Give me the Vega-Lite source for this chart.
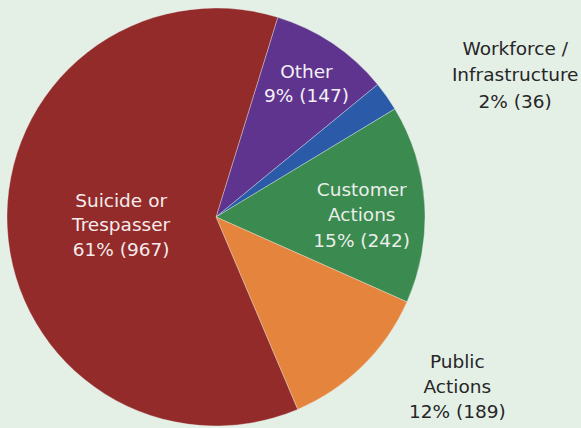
{
  "$schema": "https://vega.github.io/schema/vega-lite/v6.json",
  "autosize": "none",
  "width": 432,
  "height": 422,
  "padding": {"left": 0, "top": 6, "right": 149, "bottom": 0},
  "background": "#e4efe6",
  "view": {"stroke": null},
  "data": {
    "values": [
      {"category": "Other", "count": 147, "label": ["Other", "9% (147)"]},
      {"category": "Workforce / Infrastructure", "count": 36, "label": ["Workforce /", "Infrastructure", "2% (36)"]},
      {"category": "Customer Actions", "count": 242, "label": ["Customer", "Actions", "15% (242)"]},
      {"category": "Public Actions", "count": 189, "label": ["Public", "Actions", "12% (189)"]},
      {"category": "Suicide or Trespasser", "count": 967, "label": ["Suicide or", "Trespasser", "61% (967)"]}
    ]
  },
  "encoding": {
    "theta": {"field": "count", "type": "quantitative", "stack": true, "scale": {"range": [0.3, 6.5832]}},
    "order": {"field": "ord", "type": "quantitative"}
  },
  "transform": [
    {"window": [{"op": "row_number", "as": "ord"}]}
  ],
  "layer": [
    {
      "mark": {"type": "arc", "radius": 209, "stroke": "#f2f2f2", "strokeWidth": 0.6, "strokeOpacity": 0.6},
      "encoding": {
        "color": {
          "field": "category", "type": "nominal", "legend": null,
          "scale": {
            "domain": ["Other", "Workforce / Infrastructure", "Customer Actions", "Public Actions", "Suicide or Trespasser"],
            "range": ["#5e348e", "#2b5ba8", "#3b8a4f", "#e5843d", "#922b29"]
          }
        }
      }
    },
    {
      "mark": {"type": "text", "radius": 162, "dy": -11, "font": "DejaVu Sans", "fontSize": 18.5, "lineHeight": 24.5, "baseline": "middle", "align": "center", "color": "#f4f0f6"},
      "encoding": {"text": {"condition": {"test": "datum.category === 'Other'", "field": "label"}, "value": ""}}
    },
    {
      "mark": {"type": "text", "radius": 146, "dy": -18, "font": "DejaVu Sans", "fontSize": 18.5, "lineHeight": 25.5, "baseline": "middle", "align": "center", "color": "#eaeeea"},
      "encoding": {"text": {"condition": {"test": "datum.category === 'Customer Actions'", "field": "label"}, "value": ""}}
    },
    {
      "mark": {"type": "text", "radius": 95, "dy": -21, "font": "DejaVu Sans", "fontSize": 18.5, "lineHeight": 24.5, "baseline": "middle", "align": "center", "color": "#f6ecec"},
      "encoding": {"text": {"condition": {"test": "datum.category === 'Suicide or Trespasser'", "field": "label"}, "value": ""}}
    },
    {
      "mark": {"type": "text", "radius": 250, "dx": 95, "dy": -24, "font": "DejaVu Sans", "fontSize": 18.5, "lineHeight": 26.5, "baseline": "middle", "align": "center", "color": "#262626"},
      "encoding": {"text": {"condition": {"test": "datum.category === 'Workforce / Infrastructure'", "field": "label"}, "value": ""}}
    },
    {
      "mark": {"type": "text", "radius": 260, "dx": 59, "dy": -40, "font": "DejaVu Sans", "fontSize": 18.5, "lineHeight": 25, "baseline": "middle", "align": "center", "color": "#262626"},
      "encoding": {"text": {"condition": {"test": "datum.category === 'Public Actions'", "field": "label"}, "value": ""}}
    }
  ]
}
